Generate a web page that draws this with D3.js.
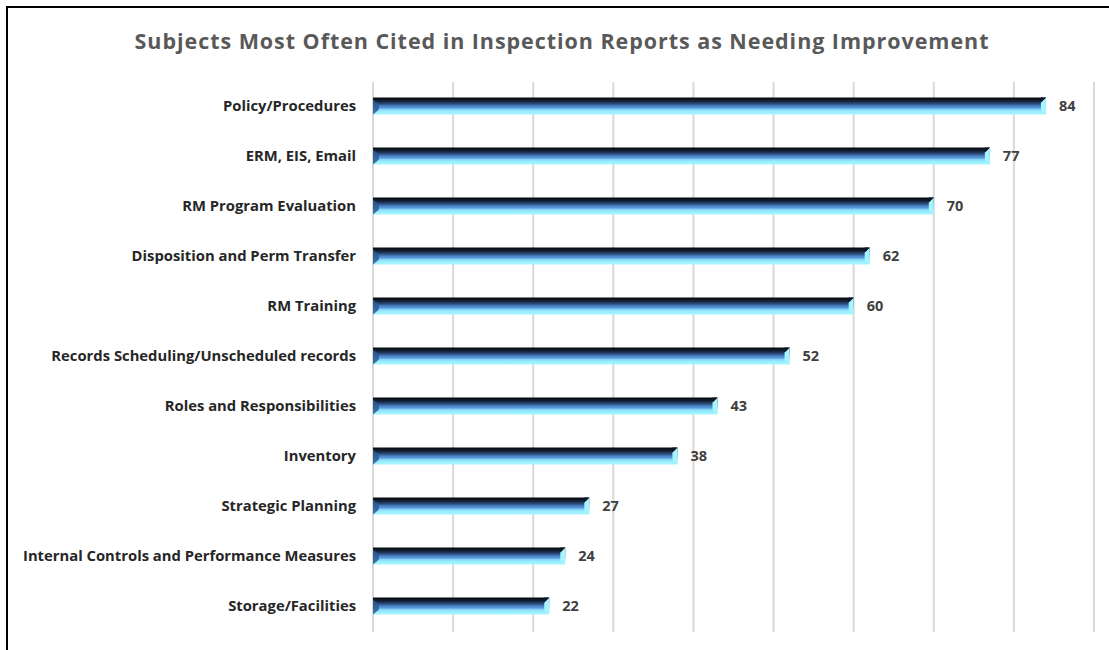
<!DOCTYPE html>
<html><head><meta charset="utf-8">
<script src="https://cdn.jsdelivr.net/npm/d3@7"></script>
<style>body{margin:0;background:#fff}svg{display:block}</style>
</head><body>
<svg id="c" width="1109" height="650"></svg>
<script>
const categories = ["Policy/Procedures","ERM, EIS, Email","RM Program Evaluation","Disposition and Perm Transfer","RM Training","Records Scheduling/Unscheduled records","Roles and Responsibilities","Inventory","Strategic Planning","Internal Controls and Performance Measures","Storage/Facilities"];
const values = [84,77,70,62,60,52,43,38,27,24,22];
const xTicks = [0,10,20,30,40,50,60,70,80,90];
const title = "Subjects Most Often Cited in Inspection Reports as Needing Improvement";

const svg = d3.select("#c");
const font = "'Open Sans', sans-serif";
// frame
svg.append("path").attr("d","M7,650 V7 H1109").attr("fill","none").attr("stroke","#000").attr("stroke-width",2);

const x = d3.scaleLinear().domain([0,90]).range([373,1094]);
const y = d3.scaleBand().domain(categories).range([81,631]).paddingInner(0.66).paddingOuter(0.33);

// gradient
const defs = svg.append("defs");
const g = defs.append("linearGradient").attr("id","bar").attr("x1",0).attr("y1",0).attr("x2",0).attr("y2",1);
[[0,"#06080c"],[0.2,"#132033"],[0.38,"#2b4f7e"],[0.5,"#4a82c4"],[0.62,"#5b9be0"],[0.7,"#86d6f4"],[0.85,"#9af0ff"],[1,"#a8f6ff"]]
  .forEach(([o,c])=>g.append("stop").attr("offset",o).attr("stop-color",c));

// gridlines
svg.append("g").selectAll("line").data(xTicks).join("line")
  .attr("x1",d=>x(d)).attr("x2",d=>x(d)).attr("y1",82).attr("y2",632)
  .attr("stroke","#d9d9d9").attr("stroke-width",2);

// title
svg.append("text").attr("x",562).attr("y",49).attr("text-anchor","middle")
  .attr("font-family",font).attr("font-weight","bold").attr("font-size",21.5).attr("letter-spacing",0.95).attr("fill","#595959").text(title);

const bh = y.bandwidth();
const bars = svg.append("g").selectAll("g").data(categories).join("g");
bars.append("rect").attr("x",x(0)).attr("y",d=>y(d)).attr("width",(d,i)=>x(values[i])-x(0)).attr("height",bh).attr("fill","url(#bar)");
// left bevel
bars.append("path").attr("d",d=>{const t=y(d),b=t+bh,l=x(0);return `M${l},${t+2}L${l+6},${t+7}L${l+6},${b-5}L${l},${b}Z`;}).attr("fill","#2d5a90").attr("opacity",0.85);
// right end light strip
bars.append("path").attr("d",(d,i)=>{const t=y(d),b=t+bh,r=x(values[i]);return `M${r},${t}L${r-5},${t+5}L${r-5},${b-4}L${r},${b}Z`;}).attr("fill","#a6f4ff");
bars.append("path").attr("d",(d,i)=>{const t=y(d),r=x(values[i]);return `M${r-5},${t}L${r},${t}L${r-5},${t+5}Z`;}).attr("fill","#0d1626");

// category labels
svg.append("g").selectAll("text").data(categories).join("text")
  .attr("x",356).attr("y",d=>y(d)+bh/2+5).attr("text-anchor","end")
  .attr("font-family",font).attr("font-weight","bold").attr("font-size",14.8).attr("fill","#262626").text(d=>d);
// value labels
svg.append("g").selectAll("text").data(values).join("text")
  .attr("x",d=>x(d)+13).attr("y",(d,i)=>y(categories[i])+bh/2+5)
  .attr("font-family",font).attr("font-weight","bold").attr("font-size",14.5).attr("fill","#404040").text(d=>d);
</script>
</body></html>
